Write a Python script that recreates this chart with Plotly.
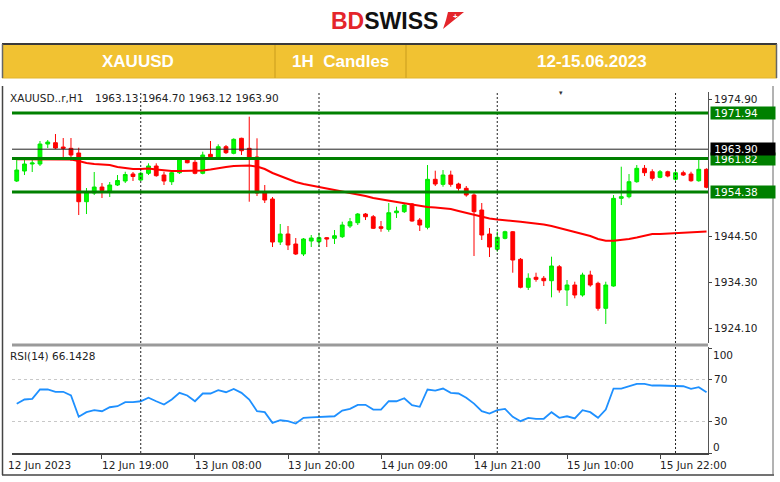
import plotly.graph_objects as go

W, H = 780, 482

# ---------------- data ----------------
bar_index = list(range(-11, 79))
opens = [1956.83, 1959.05, 1960.61, 1960.61, 1965.05, 1965.34, 1964.38, 1964.09, 1963.05, 1952.23,
         1954.16, 1955.49, 1954.61, 1955.94, 1956.83, 1958.38, 1957.05, 1958.54, 1960.16, 1958.16,
         1956.67, 1958.67, 1961.65, 1960.98, 1958.54, 1962.76, 1962.01, 1964.45, 1962.98, 1966.32,
         1964.09, 1962.16, 1954.38, 1952.83, 1943.27, 1945.05, 1942.83, 1940.61, 1943.49, 1943.34,
         1944.23, 1944.09, 1944.45, 1946.83, 1947.56, 1949.49, 1948.89, 1946.67, 1946.09, 1949.78,
         1950.01, 1951.72, 1948.16, 1946.54, 1957.21, 1956.09, 1958.16, 1956.16, 1955.21, 1953.72,
         1950.38, 1945.05, 1941.65, 1944.09, 1945.56, 1939.43, 1933.21, 1935.43, 1935.21, 1934.67,
         1937.78, 1932.61, 1933.72, 1931.49, 1935.94, 1934.09, 1928.54, 1933.49, 1952.98, 1953.34,
         1956.67, 1959.65, 1958.89, 1957.65, 1958.89, 1957.21, 1958.67, 1958.38, 1956.89, 1959.43]
highs = [1961.49, 1961.49, 1961.72, 1965.72, 1965.94, 1967.27, 1966.38, 1966.38, 1964.23, 1955.27,
         1958.83, 1956.38, 1956.61, 1958.16, 1958.89, 1958.83, 1958.89, 1960.76, 1960.76, 1958.89,
         1959.27, 1962.01, 1961.87, 1961.49, 1963.34, 1965.72, 1964.98, 1964.83, 1966.32, 1966.45,
         1971.12, 1966.32, 1955.94, 1953.27, 1947.27, 1946.83, 1944.16, 1944.16, 1944.83, 1945.34,
         1944.38, 1945.94, 1947.78, 1948.61, 1949.72, 1949.72, 1949.27, 1947.94, 1951.94, 1951.12,
         1951.94, 1951.94, 1948.61, 1960.38, 1959.12, 1959.27, 1959.12, 1956.45, 1955.72, 1954.09,
         1951.94, 1946.38, 1945.56, 1945.78, 1945.72, 1939.72, 1936.32, 1936.45, 1935.72, 1940.01,
         1938.16, 1934.83, 1934.45, 1936.45, 1936.89, 1934.45, 1934.45, 1953.72, 1960.01, 1958.38,
         1960.38, 1960.38, 1959.43, 1959.27, 1959.12, 1959.12, 1959.12, 1958.89, 1961.65, 1959.65]
lows = [1956.61, 1958.16, 1958.83, 1960.16, 1964.16, 1963.94, 1962.16, 1961.27, 1949.27, 1949.49,
        1953.72, 1953.05, 1953.27, 1955.72, 1956.38, 1956.83, 1956.83, 1958.16, 1957.78, 1955.94,
        1955.94, 1958.38, 1960.76, 1958.32, 1958.32, 1961.87, 1961.72, 1962.83, 1962.76, 1962.61,
        1952.23, 1953.49, 1951.94, 1942.16, 1942.61, 1941.49, 1940.38, 1940.16, 1942.16, 1942.16,
        1942.16, 1942.83, 1944.16, 1946.38, 1947.05, 1948.16, 1946.16, 1945.56, 1945.56, 1948.61,
        1949.72, 1947.78, 1945.72, 1946.09, 1955.72, 1955.56, 1955.56, 1954.67, 1953.34, 1940.16,
        1943.72, 1939.94, 1941.12, 1943.87, 1936.45, 1932.98, 1932.61, 1934.45, 1933.49, 1930.98,
        1932.01, 1929.05, 1930.76, 1931.12, 1933.34, 1928.01, 1925.05, 1933.34, 1951.49, 1952.98,
        1956.45, 1957.94, 1956.89, 1957.43, 1957.65, 1956.89, 1957.94, 1956.67, 1956.67, 1955.21]
closes = [1959.27, 1960.61, 1960.83, 1965.05, 1965.49, 1964.16, 1964.09, 1962.61, 1952.23, 1954.45,
          1955.49, 1954.72, 1955.94, 1956.94, 1958.27, 1957.83, 1958.54, 1960.16, 1958.01, 1956.83,
          1958.67, 1961.87, 1960.89, 1958.54, 1962.61, 1962.23, 1964.45, 1963.12, 1966.09, 1963.56,
          1961.87, 1954.16, 1952.61, 1943.27, 1945.05, 1942.61, 1940.61, 1943.94, 1944.16, 1944.23,
          1943.94, 1944.67, 1947.05, 1947.78, 1949.49, 1948.89, 1946.32, 1946.32, 1949.78, 1950.16,
          1951.49, 1947.94, 1947.05, 1957.21, 1956.16, 1958.16, 1956.09, 1955.21, 1953.72, 1950.01,
          1944.83, 1942.16, 1944.32, 1945.56, 1939.27, 1933.21, 1935.21, 1934.98, 1934.67, 1937.94,
          1932.61, 1933.72, 1931.49, 1935.94, 1933.72, 1928.54, 1933.72, 1952.98, 1953.34, 1956.67,
          1959.65, 1958.67, 1957.43, 1958.89, 1957.94, 1958.67, 1958.16, 1956.89, 1959.43, 1955.43]
ma_values = [1961.65, 1961.65, 1961.65, 1961.65, 1961.65, 1961.65, 1961.61, 1961.61, 1961.27, 1960.83,
             1960.61, 1960.49, 1960.38, 1959.94, 1959.72, 1959.49, 1959.49, 1959.61, 1959.38, 1959.16,
             1959.05, 1959.05, 1959.05, 1959.05, 1959.16, 1959.38, 1959.72, 1959.94, 1960.16, 1960.27,
             1960.27, 1960.05, 1959.49, 1958.61, 1957.94, 1957.27, 1956.61, 1956.16, 1955.83, 1955.49,
             1955.27, 1954.83, 1954.49, 1954.16, 1953.83, 1953.49, 1953.05, 1952.72, 1952.49, 1952.16,
             1951.87, 1951.61, 1951.27, 1951.05, 1950.94, 1950.76, 1950.61, 1950.16, 1949.72, 1949.27,
             1948.83, 1948.49, 1948.27, 1948.05, 1947.94, 1947.78, 1947.61, 1947.38, 1947.16, 1946.83,
             1946.38, 1945.94, 1945.49, 1945.05, 1944.61, 1943.94, 1943.56, 1943.56, 1943.72, 1943.94,
             1944.27, 1944.72, 1945.05, 1945.05, 1945.16, 1945.21, 1945.27, 1945.38, 1945.56, 1945.61]
rsi_values = [47, 51, 51.6, 60.5, 60.5, 58.3, 58.3, 54.8, 34.5, 38.9,
              40.8, 39.8, 43.6, 44.6, 48.4, 48.4, 49.3, 52.6, 49.3, 46.2,
              51, 57.3, 54.8, 49.3, 56.7, 56.7, 59.8, 57.9, 61.1, 57.3,
              51, 39.8, 38.9, 28.7, 31.2, 30.3, 28.1, 33.5, 34, 34.5,
              34.8, 35, 40.5, 42, 45.9, 45.9, 41.4, 41.4, 49.3, 49.3,
              52.2, 45.5, 44, 60.5, 59.5, 61.4, 57.3, 56.7, 52.6, 47.1,
              39.8, 37.6, 40.8, 42, 34.5, 30.3, 33.5, 32.6, 32.6, 38.9,
              33.5, 35, 32.9, 40.8, 38.9, 33.5, 41.4, 61.4, 61.4, 63.6,
              65.9, 65.9, 64.3, 64.3, 64.3, 64.3, 63.6, 61.1, 62.7, 57.9]

time_tick_index = [0, 12, 24, 36, 48, 60, 72]
time_tick_labels = ["12 Jun 19:00", "13 Jun 08:00", "13 Jun 20:00", "14 Jun 09:00",
                    "14 Jun 21:00", "15 Jun 10:00", "15 Jun 22:00"]
first_date_label = "12 Jun 2023"
day_break_index = [5, 28, 51, 74]
green_levels = [1971.94, 1961.82, 1954.38]
bid_level = 1963.90
price_ticks = [1974.90, 1944.50, 1934.30, 1924.10]
rsi_ticks = [100, 70, 30, 0]
rsi_levels = [70, 30]
header_titles = ["XAUUSD", "1H  Candles", "12-15.06.2023"]
info_symbol = "XAUUSD..r,H1"
info_ohlc = "1963.13 1964.70 1963.12 1963.90"
rsi_label = "RSI(14) 66.1428"

# ---------------- helpers (pixel -> paper) ----------------
def px(x):
    return x / W

def py(y):
    return 1 - y / H

FONT = "DejaVu Sans"
PLOT_L, PLOT_R = 12, 708
X_RANGE = [-11.61, 78.19]

fig = go.Figure()

fig.add_trace(go.Candlestick(
    x=bar_index, open=opens, high=highs, low=lows, close=closes,
    increasing=dict(line=dict(color="#00E600", width=1), fillcolor="#00FF00"),
    decreasing=dict(line=dict(color="#FF0000", width=1), fillcolor="#FF0000"),
    whiskerwidth=0, xaxis="x", yaxis="y", showlegend=False, hoverinfo="skip"))

fig.add_trace(go.Scatter(x=bar_index, y=ma_values, mode="lines",
                         line=dict(color="#FF0000", width=2),
                         xaxis="x", yaxis="y", showlegend=False, hoverinfo="skip"))

fig.add_trace(go.Scatter(x=bar_index, y=rsi_values, mode="lines",
                         line=dict(color="#1E90FF", width=1.8),
                         xaxis="x2", yaxis="y2", showlegend=False, hoverinfo="skip"))

shapes = []
# header bar
shapes.append(dict(type="rect", xref="paper", yref="paper", x0=px(2), x1=px(777),
                   y0=py(78), y1=py(44), fillcolor="#F1C232", line=dict(width=0), layer="below"))
shapes.append(dict(type="line", xref="paper", yref="paper", x0=px(2), x1=px(777),
                   y0=py(44), y1=py(44), line=dict(color="#3A3A3A", width=2)))
shapes.append(dict(type="line", xref="paper", yref="paper", x0=px(2), x1=px(777),
                   y0=py(78), y1=py(78), line=dict(color="#E2B52C", width=1)))
for xx in (2.5, 776.5):
    shapes.append(dict(type="line", xref="paper", yref="paper", x0=px(xx), x1=px(xx),
                       y0=py(44), y1=py(78), line=dict(color="#666666", width=1.5)))
for xx in (275, 406):
    shapes.append(dict(type="line", xref="paper", yref="paper", x0=px(xx), x1=px(xx),
                       y0=py(45), y1=py(78), line=dict(color="#D6A924", width=1.5)))
# logo flag
shapes.append(dict(type="path", xref="paper", yref="paper",
                   path=f"M {px(448)} {py(12)} L {px(464)} {py(12)} L {px(443)} {py(29)} L {px(446)} {py(20)} Z",
                   fillcolor="#E4252B", line=dict(width=0)))
# outer frame
shapes.append(dict(type="line", xref="paper", yref="paper", x0=px(2.5), x1=px(2.5),
                   y0=py(86), y1=py(475), line=dict(color="#444444", width=1.5)))
shapes.append(dict(type="line", xref="paper", yref="paper", x0=px(2), x1=px(774),
                   y0=py(475), y1=py(475), line=dict(color="#444444", width=1.5)))
shapes.append(dict(type="line", xref="paper", yref="paper", x0=px(773), x1=px(773),
                   y0=py(86), y1=py(475), line=dict(color="#666666", width=1)))
# panel separator
shapes.append(dict(type="line", xref="paper", yref="paper", x0=px(PLOT_L), x1=px(PLOT_R),
                   y0=py(345), y1=py(345), line=dict(color="#9A9A9A", width=3)))
# day separators
for d in day_break_index:
    for yr in ("y domain", "y2 domain"):
        shapes.append(dict(type="line", xref="x", yref=yr, x0=d, x1=d, y0=0, y1=1,
                           line=dict(color="#222222", width=1, dash="2px,2px"), layer="above"))
# RSI levels
for lv in rsi_levels:
    shapes.append(dict(type="line", xref="paper", yref="y2", x0=px(PLOT_L), x1=px(PLOT_R),
                       y0=lv, y1=lv, line=dict(color="#C8C8C8", width=1, dash="3px,3px"), layer="below"))
# price levels
shapes.append(dict(type="line", xref="paper", yref="y", x0=px(PLOT_L), x1=px(PLOT_R),
                   y0=bid_level, y1=bid_level, line=dict(color="#222222", width=1), layer="above"))
for lv in green_levels:
    shapes.append(dict(type="line", xref="paper", yref="y", x0=px(PLOT_L), x1=px(PLOT_R),
                       y0=lv, y1=lv, line=dict(color="#008000", width=3), layer="above"))

annotations = []
annotations.append(dict(xref="paper", yref="paper", x=px(384), y=py(21), showarrow=False,
                        text="<b><span style='color:#E4252B'>BD</span><span style='color:#111111'>SWISS</span></b>",
                        font=dict(family="Liberation Sans", size=23), xanchor="center", yanchor="middle"))
annotations.append(dict(xref="paper", yref="paper", x=px(455), y=py(17), showarrow=False,
                        text="<b>+</b>", font=dict(family="Liberation Sans", size=8, color="white"),
                        xanchor="center", yanchor="middle"))
for t, cx in zip(header_titles, (138, 340, 592)):
    annotations.append(dict(xref="paper", yref="paper", x=px(cx), y=py(61), showarrow=False,
                            text=f"<b>{t}</b>", font=dict(family="Liberation Sans", size=17, color="white"),
                            xanchor="center", yanchor="middle"))
# info line
annotations.append(dict(xref="paper", yref="paper", x=px(8), y=py(98), showarrow=False,
                        text=info_symbol, font=dict(family=FONT, size=10.5, color="#222222"),
                        xanchor="left", yanchor="middle"))
annotations.append(dict(xref="paper", yref="paper", x=px(93), y=py(98), showarrow=False,
                        text=info_ohlc, font=dict(family=FONT, size=10.5, color="#222222"),
                        xanchor="left", yanchor="middle"))
annotations.append(dict(xref="paper", yref="paper", x=px(561), y=py(93), showarrow=False,
                        text="▾", font=dict(family=FONT, size=7, color="#333333"),
                        xanchor="center", yanchor="middle"))
# RSI label
annotations.append(dict(xref="paper", yref="paper", x=px(8), y=py(356), showarrow=False,
                        text=rsi_label, font=dict(family=FONT, size=10.5, color="#222222"),
                        xanchor="left", yanchor="middle"))
# boxed price labels
for lv in green_levels:
    annotations.append(dict(xref="paper", yref="y", x=px(710), y=lv, showarrow=False,
                            text="&nbsp;%.2f" % lv, font=dict(family=FONT, size=10.5, color="white"),
                            bgcolor="#008000", borderpad=0, width=64, align="left",
                            xanchor="left", yanchor="middle"))
annotations.append(dict(xref="paper", yref="y", x=px(710), y=bid_level, showarrow=False,
                        text="&nbsp;%.2f" % bid_level, font=dict(family=FONT, size=10.5, color="white"),
                        bgcolor="#000000", borderpad=0, width=64, align="left",
                        xanchor="left", yanchor="middle"))
# RSI edge labels (100, 0) pushed inside the panel
annotations.append(dict(xref="paper", yref="y2", x=px(711), y=rsi_ticks[0], yshift=-7, showarrow=False,
                        text=str(rsi_ticks[0]), font=dict(family=FONT, size=10.5, color="#222222"),
                        xanchor="left", yanchor="middle"))
annotations.append(dict(xref="paper", yref="y2", x=px(711), y=rsi_ticks[3], yshift=6, showarrow=False,
                        text=str(rsi_ticks[3]), font=dict(family=FONT, size=10.5, color="#222222"),
                        xanchor="left", yanchor="middle"))
# time labels
for idx, lab in zip(time_tick_index, time_tick_labels):
    annotations.append(dict(xref="x2", yref="paper", x=idx, y=py(465), showarrow=False,
                            text=lab, font=dict(family=FONT, size=10.5, color="#222222"),
                            xanchor="left", yanchor="middle", xshift=-2))
annotations.append(dict(xref="paper", yref="paper", x=px(6), y=py(465), showarrow=False,
                        text=first_date_label, font=dict(family=FONT, size=10.5, color="#222222"),
                        xanchor="left", yanchor="middle"))

axis_font = dict(family=FONT, size=10.5, color="#222222")
fig.update_layout(
    width=W, height=H, margin=dict(l=0, r=0, t=0, b=0),
    paper_bgcolor="white", plot_bgcolor="white",
    showlegend=False,
    xaxis=dict(domain=[px(PLOT_L), px(PLOT_R)], range=X_RANGE, anchor="y",
               showticklabels=False, showgrid=False, zeroline=False, showline=False,
               rangeslider=dict(visible=False), fixedrange=True),
    yaxis=dict(domain=[py(343), py(92)], range=[1920.83, 1976.61], anchor="x", side="right",
               tickvals=price_ticks, ticktext=["%.2f" % v for v in price_ticks],
               ticks="outside", ticklen=3, tickcolor="#444444", tickfont=axis_font,
               showline=True, linecolor="#555555", linewidth=1,
               showgrid=False, zeroline=False),
    xaxis2=dict(domain=[px(PLOT_L), px(PLOT_R)], range=X_RANGE, anchor="y2",
                tickvals=time_tick_index, ticks="outside", ticklen=4, tickcolor="#444444",
                showticklabels=False, showgrid=False, zeroline=False,
                showline=True, linecolor="#444444", linewidth=1.5),
    yaxis2=dict(domain=[py(453), py(347)], range=[0, 101], anchor="x2", side="right",
                tickvals=rsi_ticks, ticktext=["", "70", "30", ""],
                ticks="outside", ticklen=3, tickcolor="#444444", tickfont=axis_font,
                showline=True, linecolor="#555555", linewidth=1,
                showgrid=False, zeroline=False),
    shapes=shapes, annotations=annotations,
)

fig.write_html("out.html", config={"displayModeBar": False},
               post_script="document.body.style.margin='0';document.body.style.overflow='hidden';")
